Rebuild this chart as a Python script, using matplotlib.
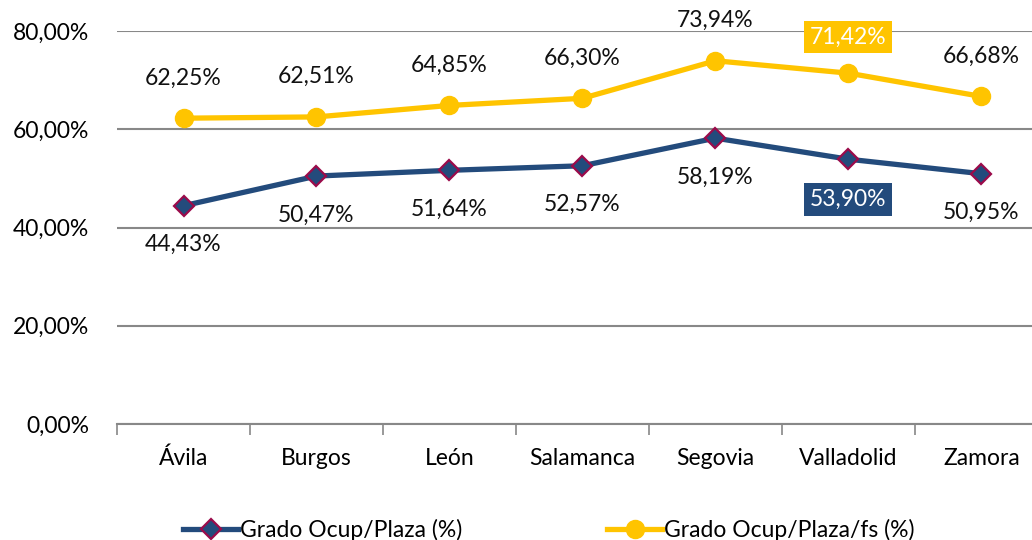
import matplotlib.pyplot as plt

plt.rcParams['font.family'] = ['Lato', 'DejaVu Sans']

provincias = ['Ávila', 'Burgos', 'León', 'Salamanca', 'Segovia', 'Valladolid', 'Zamora']
ocup_plaza = [44.43, 50.47, 51.64, 52.57, 58.19, 53.90, 50.95]
ocup_plaza_fs = [62.25, 62.51, 64.85, 66.30, 73.94, 71.42, 66.68]
yticks = [0, 20, 40, 60, 80]

azul = '#234B7C'
amarillo = '#FFC400'
borde = '#9B0B4A'
gris = '#888888'
fs = 16.5


def fmt(v):
    return ('%.2f%%' % v).replace('.', ',')


fig = plt.figure(figsize=(10.32, 5.4), dpi=100)
ax = fig.add_axes([0.1134, 0.2148, 0.902, 0.7278])
x = list(range(len(provincias)))

ax.plot(x, ocup_plaza, color=azul, lw=3.8, marker='D', ms=10,
        mfc=azul, mec=borde, mew=1.6, label='Grado Ocup/Plaza (%)', zorder=3)
ax.plot(x, ocup_plaza_fs, color=amarillo, lw=3.8, marker='o', ms=13,
        mfc=amarillo, mec=amarillo, label='Grado Ocup/Plaza/fs (%)', zorder=3)

for i, (a, b) in enumerate(zip(ocup_plaza, ocup_plaza_fs)):
    if provincias[i] == 'Valladolid':
        ax.annotate(fmt(a), (i, a), xytext=(0, -29), textcoords='offset points',
                    ha='center', va='center', fontsize=fs, color='white',
                    bbox=dict(boxstyle='square,pad=0.25', fc=azul, ec='none'))
        ax.annotate(fmt(b), (i, b), xytext=(0, 26), textcoords='offset points',
                    ha='center', va='center', fontsize=fs, color='white',
                    bbox=dict(boxstyle='square,pad=0.25', fc=amarillo, ec='none'),
                    annotation_clip=False)
    else:
        ax.annotate(fmt(a), (i, a), xytext=(0, -28), textcoords='offset points',
                    ha='center', va='center', fontsize=fs, color='#111111')
        ax.annotate(fmt(b), (i, b), xytext=(0, 29), textcoords='offset points',
                    ha='center', va='center', fontsize=fs, color='#111111',
                    annotation_clip=False)

ax.set_xlim(-0.5, len(provincias) - 0.5)
ax.set_ylim(0, 80)
ax.set_yticks(yticks)
ax.set_yticklabels([fmt(v) for v in yticks], fontsize=fs)
ax.yaxis.grid(True, color=gris, lw=1.5)
ax.set_axisbelow(True)
ax.tick_params(axis='y', length=0, pad=20)

ax.set_xticks(x)
ax.set_xticklabels(provincias, fontsize=fs)
ax.set_xticks([i - 0.5 for i in range(len(provincias) + 1)], minor=True)
ax.tick_params(axis='x', which='major', length=0, pad=17)
ax.tick_params(axis='x', which='minor', length=8, width=1.2, color=gris)

for s in ['top', 'right', 'left']:
    ax.spines[s].set_visible(False)
ax.spines['bottom'].set_color(gris)
ax.spines['bottom'].set_linewidth(1.5)

fig.legend(loc='lower center', bbox_to_anchor=(0.532, -0.04), ncol=2, frameon=False,
           fontsize=fs, handlelength=2.4, handletextpad=0.1, columnspacing=6.3)

fig.savefig('out.png', dpi=100)
